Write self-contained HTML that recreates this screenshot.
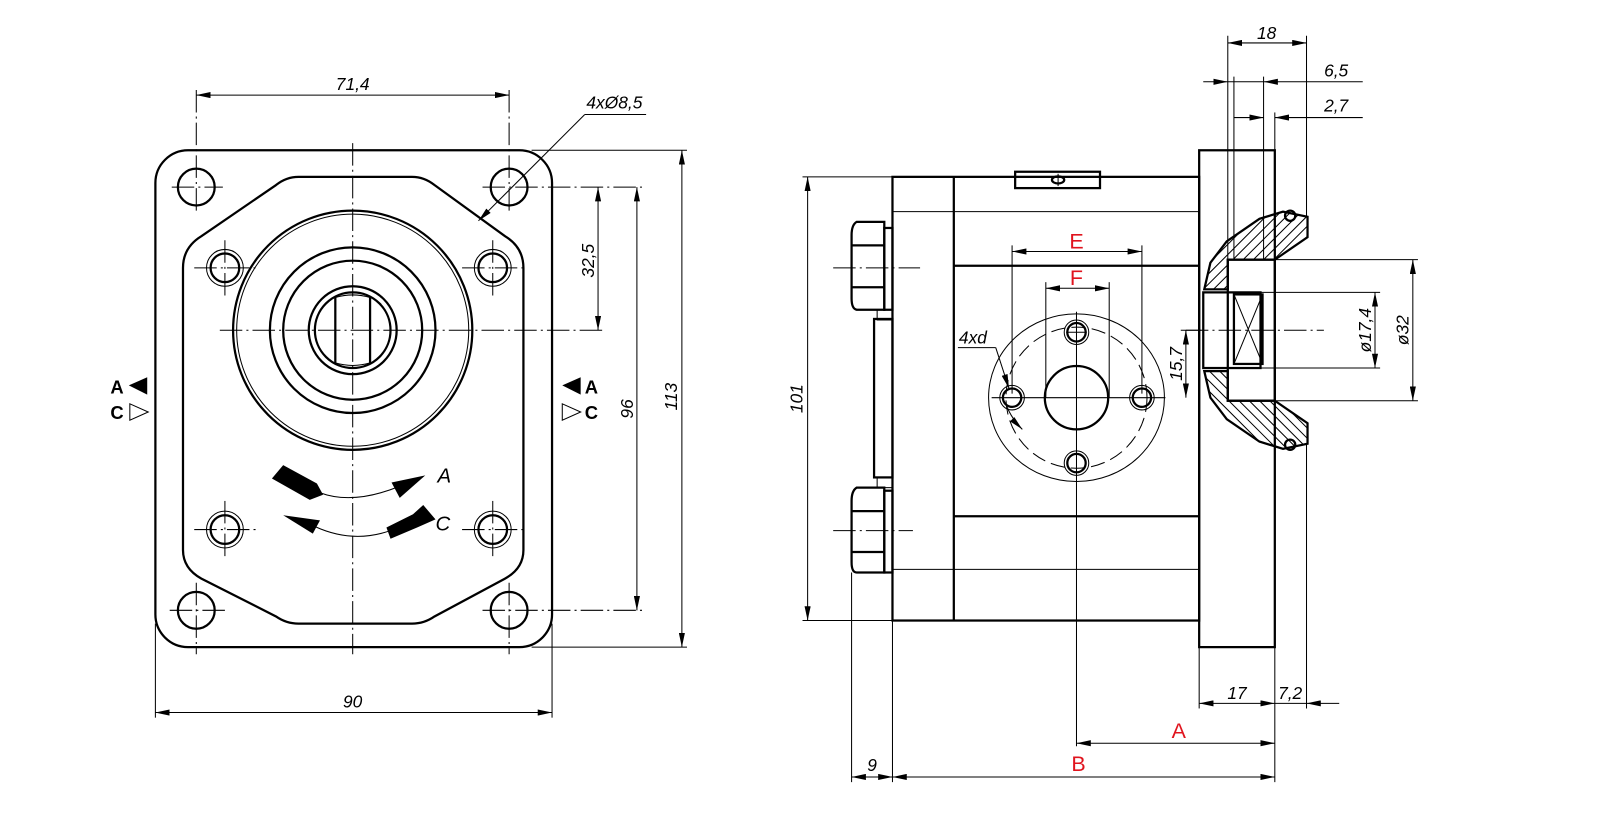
<!DOCTYPE html>
<html><head><meta charset="utf-8">
<style>
html,body{margin:0;padding:0;background:#fff;}
svg{display:block;}
text{font-family:"Liberation Sans",sans-serif;}
.d{font-style:italic;font-size:17px;fill:#000;}
.r{font-size:21px;fill:#e0141e;}
.k{stroke:#000;stroke-width:2.2;fill:none;}
.t{stroke:#000;stroke-width:1;fill:none;}
.c{stroke:#000;stroke-width:1;fill:none;stroke-dasharray:22 4 2 4;}
.dash{stroke:#000;stroke-width:1;fill:none;stroke-dasharray:14 6;}
</style></head>
<body>
<svg width="1604" height="825" viewBox="0 0 1569 807" preserveAspectRatio="none" xmlns="http://www.w3.org/2000/svg">
<defs>
<marker id="a" viewBox="0 0 14 6" refX="14" refY="3" markerWidth="14" markerHeight="6" markerUnits="userSpaceOnUse" orient="auto-start-reverse"><path d="M0,0 L14,3 L0,6 Z" fill="#000"/></marker>
<clipPath id="cu"><path d="M1178,283 L1184,257 L1200,236 L1232,214 L1255,207 L1279,212 L1279,232 L1247,254 L1201,254 L1201,283 Z"/></clipPath>
<clipPath id="cl"><path d="M1178,363 L1184,389 L1200,410 L1232,432 L1255,439 L1279,434 L1279,414 L1247,392 L1201,392 L1201,363 Z"/></clipPath>
</defs>

<!-- ============ LEFT VIEW ============ -->
<rect x="152" y="147" width="388" height="486" rx="32" class="k"/>
<path class="k" d="M179,262 Q179,242 197,231 L270,181 Q280,173 292,173 L403,173 Q415,173 425,181 L494,231 Q512,242 512,262 L512,538 Q512,556 494,566 L425,603 Q415,610 403,610 L292,610 Q280,610 270,603 L197,566 Q179,556 179,538 Z"/>
<g class="k"><circle cx="192" cy="183" r="18"/><circle cx="498" cy="183" r="18"/><circle cx="192" cy="597" r="18"/><circle cx="498" cy="597" r="18"/></g>
<g class="c">
<line x1="192" y1="88" x2="192" y2="210"/><line x1="168" y1="183" x2="218" y2="183"/>
<line x1="498" y1="88" x2="498" y2="210"/><line x1="472" y1="183" x2="628" y2="183"/>
<line x1="192" y1="570" x2="192" y2="640"/><line x1="166" y1="597" x2="222" y2="597"/>
<line x1="498" y1="570" x2="498" y2="640"/><line x1="472" y1="597" x2="628" y2="597"/>
</g>
<g class="k"><circle cx="220" cy="262" r="14"/><circle cx="482" cy="262" r="14"/><circle cx="220" cy="518" r="14"/><circle cx="482" cy="518" r="14"/></g>
<g class="t"><circle cx="220" cy="262" r="18"/><circle cx="482" cy="262" r="18"/><circle cx="220" cy="518" r="18"/><circle cx="482" cy="518" r="18"/></g>
<g class="c">
<line x1="220" y1="235" x2="220" y2="290"/><line x1="190" y1="262" x2="250" y2="262"/>
<line x1="482" y1="235" x2="482" y2="290"/><line x1="452" y1="262" x2="512" y2="262"/>
<line x1="220" y1="490" x2="220" y2="545"/><line x1="190" y1="518" x2="250" y2="518"/>
<line x1="482" y1="490" x2="482" y2="545"/><line x1="452" y1="518" x2="512" y2="518"/>
</g>
<circle cx="345" cy="323" r="117" class="k"/>
<circle cx="345" cy="323" r="113.5" class="t" stroke-width="1.6"/>
<circle cx="345" cy="323" r="81" class="k"/>
<circle cx="345" cy="323" r="68" class="k"/>
<circle cx="345" cy="323" r="43" class="k"/>
<circle cx="345" cy="323" r="37" class="k"/>
<line x1="328" y1="291" x2="328" y2="355" class="k"/>
<line x1="362" y1="291" x2="362" y2="355" class="k"/>
<path d="M328,291 Q345,286 362,291 M328,355 Q345,360 362,355" class="t" stroke-width="1.5"/>
<line x1="345" y1="140" x2="345" y2="640" class="c"/>
<line x1="215" y1="323" x2="590" y2="323" class="c"/>
<!-- rotation arrows -->
<polygon points="277,455 266,468 303,489 316,484 310,473" fill="#000"/>
<path d="M313,482 Q345,494 390,476" class="t" stroke-width="1.8"/>
<polygon points="416,465 383,472 391,487" fill="#000"/>
<polygon points="277,504 313,509 306,522" fill="#000"/>
<path d="M308,515 Q345,532 382,519" class="t" stroke-width="1.8"/>
<polygon points="378,516 382,527 408,516 426,508 414,494 404,503" fill="#000"/>
<text x="428" y="472" class="d" style="font-size:20px">A</text>
<text x="426" y="519" class="d" style="font-size:20px">C</text>
<!-- side labels -->
<text x="108" y="385" style="font-size:18px;font-weight:bold">A</text><polygon points="126,377 144,369 144,386" fill="#000"/>
<text x="108" y="410" style="font-size:18px;font-weight:bold">C</text><polygon points="127,395 145,403 127,411" class="t" stroke-width="1.3"/>
<polygon points="550,377 568,369 568,386" fill="#000"/><text x="572" y="385" style="font-size:18px;font-weight:bold">A</text>
<polygon points="550,395 568,403 550,411" class="t" stroke-width="1.3"/><text x="572" y="410" style="font-size:18px;font-weight:bold">C</text>
<!-- dims left -->
<line x1="192" y1="93" x2="498" y2="93" class="t" marker-start="url(#a)" marker-end="url(#a)"/>
<text x="345" y="88" class="d" text-anchor="middle">71,4</text>
<line x1="468" y1="216" x2="572" y2="112" class="t" marker-start="url(#a)"/>
<line x1="572" y1="112" x2="632" y2="112" class="t"/>
<text x="601" y="106" class="d" text-anchor="middle">4xØ8,5</text>
<line x1="585" y1="183" x2="585" y2="323" class="t" marker-start="url(#a)" marker-end="url(#a)"/>
<text transform="translate(581,255) rotate(-90)" class="d" text-anchor="middle">32,5</text>
<line x1="623" y1="183" x2="623" y2="597" class="t" marker-start="url(#a)" marker-end="url(#a)"/>
<text transform="translate(619,400) rotate(-90)" class="d" text-anchor="middle">96</text>
<line x1="520" y1="147" x2="672" y2="147" class="t"/>
<line x1="520" y1="633" x2="672" y2="633" class="t"/>
<line x1="667" y1="147" x2="667" y2="633" class="t" marker-start="url(#a)" marker-end="url(#a)"/>
<text transform="translate(662,388) rotate(-90)" class="d" text-anchor="middle">113</text>
<line x1="152" y1="610" x2="152" y2="702" class="t"/>
<line x1="540" y1="610" x2="540" y2="702" class="t"/>
<line x1="152" y1="697" x2="540" y2="697" class="t" marker-start="url(#a)" marker-end="url(#a)"/>
<text x="345" y="692" class="d" text-anchor="middle">90</text>

<!-- ============ RIGHT VIEW ============ -->
<rect x="873" y="173" width="300" height="434" class="k"/>
<line x1="933" y1="173" x2="933" y2="607" class="k"/>
<line x1="873" y1="207" x2="1173" y2="207" class="t" stroke-width="1.3"/>
<line x1="933" y1="260" x2="1173" y2="260" class="k"/>
<line x1="933" y1="505" x2="1173" y2="505" class="k"/>
<line x1="873" y1="557" x2="1173" y2="557" class="t" stroke-width="1.3"/>
<rect x="993" y="168" width="83" height="16" class="k" fill="#fff"/>
<ellipse cx="1035" cy="176" rx="6" ry="3.5" class="k"/>
<line x1="1035" y1="170" x2="1035" y2="182" class="t"/>
<!-- bolts -->
<rect x="855" y="312" width="18" height="155" class="k"/>
<path class="k" d="M865,217 L838,217 Q833,220 833,230 L833,292 Q833,302 838,303 L865,303 Z"/>
<line x1="833" y1="240" x2="865" y2="240" class="k"/><line x1="833" y1="281" x2="865" y2="281" class="k"/>
<rect x="865" y="223" width="8" height="80" class="k"/>
<path class="k" d="M865,477 L838,477 Q833,480 833,490 L833,550 Q833,560 838,560 L865,560 Z"/>
<line x1="833" y1="500" x2="865" y2="500" class="k"/><line x1="833" y1="540" x2="865" y2="540" class="k"/>
<rect x="865" y="480" width="8" height="80" class="k"/>
<rect x="858" y="303" width="15" height="10" class="t"/><rect x="858" y="467" width="15" height="10" class="t"/>
<line x1="815" y1="262" x2="900" y2="262" class="c"/><line x1="815" y1="519" x2="893" y2="519" class="c"/>
<!-- flange face -->
<ellipse cx="1053" cy="389" rx="86" ry="82" class="t" stroke-width="1.2"/>
<circle cx="1053" cy="389" r="69" class="dash"/>
<circle cx="1053" cy="389" r="31" class="k"/>
<g class="k"><circle cx="1053" cy="325" r="9"/><circle cx="990" cy="389" r="9"/><circle cx="1117" cy="389" r="9"/><circle cx="1053" cy="453" r="9"/></g>
<g class="t"><circle cx="1053" cy="325" r="12"/><circle cx="990" cy="389" r="12"/><circle cx="1117" cy="389" r="12"/><circle cx="1053" cy="453" r="12"/></g>
<line x1="1053" y1="305" x2="1053" y2="730" class="t"/>
<line x1="970" y1="389" x2="1140" y2="389" class="t"/>
<line x1="1043" y1="325" x2="1063" y2="325" class="t"/>
<!-- E F -->
<line x1="990" y1="240" x2="990" y2="385" class="t"/><line x1="1117" y1="240" x2="1117" y2="385" class="t"/>
<line x1="990" y1="246" x2="1117" y2="246" class="t" marker-start="url(#a)" marker-end="url(#a)"/>
<text x="1053" y="243" class="r" text-anchor="middle">E</text>
<line x1="1023" y1="276" x2="1023" y2="389" class="t"/><line x1="1085" y1="276" x2="1085" y2="389" class="t"/>
<line x1="1023" y1="282" x2="1085" y2="282" class="t" marker-start="url(#a)" marker-end="url(#a)"/>
<text x="1053" y="279" class="r" text-anchor="middle">F</text>
<text x="938" y="336" class="d">4xd</text>
<line x1="937" y1="340" x2="974" y2="340" class="t"/>
<line x1="974" y1="340" x2="987" y2="380" class="t" marker-end="url(#a)"/>
<path d="M985,398 Q990,410 1000,420" class="t" marker-end="url(#a)"/>
<!-- flange -->
<rect x="1173" y="147" width="74" height="486" class="k" fill="#fff"/>
<line x1="1201" y1="35" x2="1201" y2="254" class="t"/>
<line x1="1207" y1="75" x2="1207" y2="254" class="t"/>
<line x1="1236" y1="75" x2="1236" y2="254" class="t"/>
<line x1="1247" y1="110" x2="1247" y2="147" class="t"/>
<line x1="1278" y1="35" x2="1278" y2="212" class="t"/>
<line x1="1278" y1="434" x2="1278" y2="693" class="t"/>
<!-- hatched hub -->
<path d="M1178,283 L1184,257 L1200,236 L1232,214 L1255,207 L1279,212 L1279,232 L1247,254 L1201,254 L1201,283 Z" fill="#fff" class="k"/>
<path d="M1178,363 L1184,389 L1200,410 L1232,432 L1255,439 L1279,434 L1279,414 L1247,392 L1201,392 L1201,363 Z" fill="#fff" class="k"/>
<g clip-path="url(#cu)" class="t">
<path d="M1150,300 L1250,200 M1160,300 L1260,200 M1170,300 L1270,200 M1180,300 L1280,200 M1190,300 L1290,200 M1200,300 L1300,200 M1210,300 L1310,200 M1220,300 L1320,200 M1230,300 L1330,200 M1240,300 L1340,200 M1250,300 L1350,200 M1140,300 L1240,200 M1130,300 L1230,200"/>
</g>
<g clip-path="url(#cl)" class="t">
<path d="M1150,350 L1250,450 M1160,350 L1260,450 M1170,350 L1270,450 M1180,350 L1280,450 M1190,350 L1290,450 M1200,350 L1300,450 M1210,350 L1310,450 M1220,350 L1320,450 M1230,350 L1330,450 M1140,350 L1240,450 M1130,350 L1230,450 M1120,350 L1220,450 M1110,350 L1210,450"/>
</g>
<rect x="1201" y="254" width="46" height="138" class="k" fill="none"/>
<rect x="1177" y="286" width="56" height="74" class="k" fill="#fff"/>
<rect x="1207" y="288" width="28" height="68" class="k"/>
<path d="M1207,288 L1235,356 M1235,288 L1207,356" class="t"/>
<circle cx="1262" cy="211" r="5" class="k" fill="#fff"/><circle cx="1262" cy="435" r="5" class="k" fill="#fff"/>
<line x1="1160" y1="323" x2="1295" y2="323" class="c"/>
<line x1="1247" y1="254" x2="1387" y2="254" class="t"/>
<line x1="1247" y1="392" x2="1387" y2="392" class="t"/>
<line x1="1233" y1="286" x2="1350" y2="286" class="t"/>
<line x1="1233" y1="360" x2="1350" y2="360" class="t"/>
<line x1="1345" y1="286" x2="1345" y2="360" class="t" marker-start="url(#a)" marker-end="url(#a)"/>
<text transform="translate(1341,323) rotate(-90)" class="d" text-anchor="middle">ø17,4</text>
<line x1="1382" y1="254" x2="1382" y2="392" class="t" marker-start="url(#a)" marker-end="url(#a)"/>
<text transform="translate(1378,323) rotate(-90)" class="d" text-anchor="middle">ø32</text>
<!-- top dims -->
<line x1="1201" y1="42" x2="1278" y2="42" class="t" marker-start="url(#a)" marker-end="url(#a)"/>
<text x="1239" y="38" class="d" text-anchor="middle">18</text>
<line x1="1177" y1="80" x2="1201" y2="80" class="t" marker-end="url(#a)"/>
<line x1="1201" y1="80" x2="1236" y2="80" class="t"/>
<line x1="1333" y1="80" x2="1236" y2="80" class="t" marker-end="url(#a)"/>
<text x="1307" y="75" class="d" text-anchor="middle">6,5</text>
<line x1="1207" y1="115" x2="1236" y2="115" class="t" marker-end="url(#a)"/>
<line x1="1333" y1="115" x2="1247" y2="115" class="t" marker-end="url(#a)"/>
<text x="1307" y="109" class="d" text-anchor="middle">2,7</text>
<!-- 15,7 -->
<line x1="1155" y1="323" x2="1175" y2="323" class="t"/>
<line x1="1160" y1="323" x2="1160" y2="389" class="t" marker-start="url(#a)" marker-end="url(#a)"/>
<text transform="translate(1156,356) rotate(-90)" class="d" text-anchor="middle">15,7</text>
<!-- 101 -->
<line x1="785" y1="173" x2="873" y2="173" class="t"/>
<line x1="785" y1="607" x2="873" y2="607" class="t"/>
<line x1="790" y1="173" x2="790" y2="607" class="t" marker-start="url(#a)" marker-end="url(#a)"/>
<text transform="translate(785,390) rotate(-90)" class="d" text-anchor="middle">101</text>
<!-- bottom dims -->
<line x1="833" y1="560" x2="833" y2="765" class="t"/>
<line x1="873" y1="607" x2="873" y2="765" class="t"/>
<line x1="1173" y1="633" x2="1173" y2="693" class="t"/>
<line x1="1247" y1="633" x2="1247" y2="765" class="t"/>
<line x1="1173" y1="688" x2="1247" y2="688" class="t" marker-start="url(#a)" marker-end="url(#a)"/>
<text x="1210" y="684" class="d" text-anchor="middle">17</text>
<line x1="1247" y1="688" x2="1278" y2="688" class="t"/>
<line x1="1310" y1="688" x2="1278" y2="688" class="t" marker-end="url(#a)"/>
<text x="1262" y="684" class="d" text-anchor="middle">7,2</text>
<line x1="1053" y1="727" x2="1247" y2="727" class="t" marker-start="url(#a)" marker-end="url(#a)"/>
<text x="1153" y="722" class="r" text-anchor="middle">A</text>
<line x1="833" y1="760" x2="873" y2="760" class="t" marker-start="url(#a)" marker-end="url(#a)"/>
<text x="853" y="754" class="d" text-anchor="middle">9</text>
<line x1="873" y1="760" x2="1247" y2="760" class="t" marker-start="url(#a)" marker-end="url(#a)"/>
<text x="1055" y="754" class="r" text-anchor="middle">B</text>
</svg>
</body></html>
